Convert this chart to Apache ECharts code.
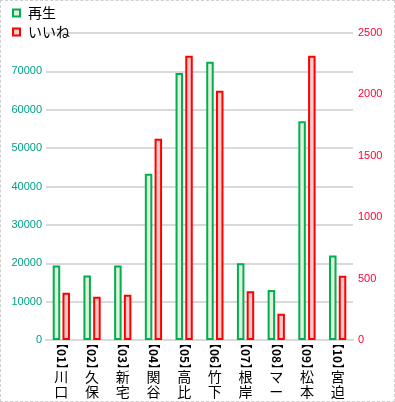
<!DOCTYPE html>
<html><head><meta charset="utf-8">
<script src="https://cdn.jsdelivr.net/npm/echarts@6/dist/echarts.min.js"></script>
<style>
html,body{margin:0;padding:0;background:#fff;}
#c{position:absolute;left:0;top:0;width:395px;height:402px;}
#f{position:absolute;left:0;top:0;width:395px;height:402px;box-sizing:border-box;border:1px dashed #cfcfcf;pointer-events:none;}
</style></head>
<body><div id="c"></div><div id="f"></div>
<script>
const codes = ['01','02','03','04','05','06','07','08','09','10'];
const names = ['川口','久保','新宅','関谷','高比','竹下','根岸','マー','松本','宮迫'];
const plays = [19400, 16800, 19400, 43300, 69600, 72500, 20000, 13000, 57000, 22000];
const likes = [385, 353, 369, 1639, 2315, 2030, 396, 214, 2315, 524];
const leftTicks = [0, 10000, 20000, 30000, 40000, 50000, 60000, 70000, 80000];
const rightTicks = [0, 500, 1000, 1500, 2000, 2500];
const categories = codes.map((c, i) => '【' + c + '】' + names[i]);

const chart = echarts.init(document.getElementById('c'));
const jp = '"Noto Sans CJK JP", sans-serif';
chart.setOption({
  animation: false,
  grid: {left: 46, right: 42, top: 33, bottom: 62, containLabel: false, outerBoundsMode: 'none'},
  legend: {
    orient: 'vertical', left: 12, top: 5, padding: 0, itemWidth: 7, itemHeight: 7, itemGap: 3,
    icon: 'rect',
    textStyle: {fontFamily: jp, fontSize: 14, color: '#000', lineHeight: 16, padding: [0,0,0,3]},
    data: ['再生', 'いいね']
  },
  xAxis: [{
    type: 'category', data: categories,
    axisLine: {lineStyle: {color: '#d9d9d9', width: 2}},
    axisTick: {show: false},
    axisLabel: {
      interval: 0, rotate: -90, margin: 3,
      formatter: v => '{l|【}{d|' + v.slice(1, 3) + '}{r|】}',
      rich: {
        l: {padding: [0, 0, 0, -6], fontFamily: jp, fontSize: 12, color: '#000'},
        d: {fontFamily: jp, fontSize: 12, color: '#000', fontWeight: 'bold'},
        r: {padding: [0, -6, 0, 0], fontFamily: jp, fontSize: 12, color: '#000'}
      },
      fontFamily: jp, fontSize: 12, color: '#000'
    }
  }, {
    type: 'category', data: categories, position: 'bottom', offset: 0,
    axisLine: {show: false}, axisTick: {show: false},
    axisLabel: {
      interval: 0, margin: 29, verticalAlign: 'top',
      formatter: v => v.slice(4).split('').join('\n'),
      fontFamily: jp, fontSize: 14, lineHeight: 15, color: '#000'
    }
  }],
  yAxis: [{
    type: 'value', min: leftTicks[0], max: leftTicks[leftTicks.length - 1], interval: 10000,
    axisLine: {show: false}, axisTick: {show: false},
    splitLine: {lineStyle: {color: '#d9d9d9', width: 2}},
    axisLabel: {showMaxLabel: false, margin: 4, color: '#00a088', fontFamily: 'Liberation Sans', fontSize: 11, formatter: v => String(v)}
  }, {
    type: 'value', min: rightTicks[0], max: rightTicks[rightTicks.length - 1], interval: 500,
    axisLine: {show: false}, axisTick: {show: false}, splitLine: {show: false},
    axisLabel: {margin: 5, color: '#ff0033', fontFamily: 'Liberation Sans', fontSize: 11, formatter: v => String(v)}
  }],
  series: [{
    name: '再生', type: 'bar', yAxisIndex: 0, data: plays,
    barWidth: 7.5, barGap: '30%',
    itemStyle: {color: '#e2efda', borderColor: '#00b050', borderWidth: 2}
  }, {
    name: 'いいね', type: 'bar', yAxisIndex: 1, data: likes,
    barWidth: 7.5,
    itemStyle: {color: '#ffcccc', borderColor: '#ff0000', borderWidth: 2}
  }]
});
</script></body></html>
